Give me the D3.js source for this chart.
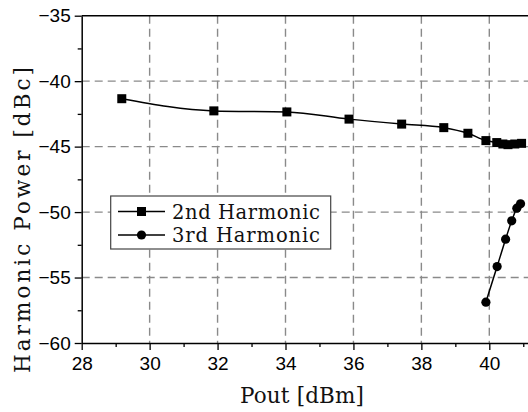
<!DOCTYPE html>
<html><head><meta charset="utf-8">
<script src="https://cdn.jsdelivr.net/npm/d3@7"></script>
<style>
html,body{margin:0;padding:0;background:#fff;}
svg{display:block;}
</style></head>
<body>
<svg id="chart" width="528" height="412"></svg>
<script>
const x2nd = [29.18, 31.89, 34.04, 35.87, 37.42, 38.66, 39.37, 39.9, 40.22, 40.4, 40.55, 40.75, 40.95];
const y2nd = [-41.34, -42.27, -42.35, -42.9, -43.28, -43.55, -43.98, -44.54, -44.69, -44.8, -44.85, -44.8, -44.75];
const x3rd = [39.9, 40.23, 40.48, 40.66, 40.81, 40.92];
const y3rd = [-56.88, -54.16, -52.07, -50.67, -49.70, -49.37];
const xTicks = [28, 30, 32, 34, 36, 38, 40];
const yTicks = [-60, -55, -50, -45, -40, -35];
const seriesNames = ["2nd Harmonic", "3rd Harmonic"];
const xTitle = "Pout [dBm]";
const yTitle = "Harmonic Power [dBc]";

const svg = d3.select("#chart");
const L = 81.7, T = 15.7, B = 343;
const x = d3.scaleLinear().domain([28, 40]).range([L, 489.3]);
const y = d3.scaleLinear().domain([-60, -35]).range([B, T]);
const xMax = x.invert(540);

// grid
const grid = svg.append("g").attr("stroke", "#8a8a8a").attr("stroke-width", 1.4).attr("stroke-dasharray", "8,5");
xTicks.filter(d => d > 28).forEach(d => grid.append("line").attr("x1", x(d)).attr("x2", x(d)).attr("y1", y(-35)).attr("y2", y(-60)));
yTicks.filter(d => d > -60 && d < -35).forEach(d => grid.append("line").attr("x1", x(28)).attr("x2", x(xMax)).attr("y1", y(d)).attr("y2", y(d)));

// axes
const xMinor = d3.range(28, 42, 1);
const yMinor = d3.range(-60, -34, 2.5);
const xAxis = svg.append("g").attr("transform", `translate(0,${B})`)
  .call(d3.axisBottom(x.copy().domain([28, xMax]).range([L, 540])).tickValues(xTicks).tickSize(7).tickSizeOuter(0).tickFormat(d3.format("d")));
svg.append("g").attr("transform", `translate(0,${B})`)
  .call(d3.axisBottom(x).tickValues(xMinor.filter(d => d % 2 !== 0)).tickSize(4).tickFormat(""))
  .select(".domain").remove();
const yAxis = svg.append("g").attr("transform", `translate(${L},0)`)
  .call(d3.axisLeft(y).tickValues(yTicks).tickSize(7).tickSizeOuter(0).tickFormat(d3.format("d")));
svg.append("g").attr("transform", `translate(${L},0)`)
  .call(d3.axisLeft(y).tickValues(yMinor.filter(d => d % 5 !== 0)).tickSize(4).tickFormat(""))
  .select(".domain").remove();
svg.selectAll(".tick line").attr("stroke", "#000").attr("stroke-width", 1.3);
svg.selectAll(".domain").attr("stroke", "#000").attr("stroke-width", 1.5);
svg.selectAll(".tick text").attr("font-family", "Liberation Sans, Arial, sans-serif").attr("font-size", 19).attr("fill", "#000");
xAxis.selectAll(".tick text").attr("dy", "0.9em");
yAxis.selectAll(".tick text").attr("dx", "-0.05em");
// top frame
svg.append("line").attr("x1", L).attr("x2", 540).attr("y1", T).attr("y2", T).attr("stroke", "#000").attr("stroke-width", 1.5);

// series
const line = d3.line().x(d => x(d[0])).y(d => y(d[1])).curve(d3.curveMonotoneX);
const d2 = x2nd.map((v, i) => [v, y2nd[i]]);
const d3s = x3rd.map((v, i) => [v, y3rd[i]]);
svg.append("path").attr("d", line(d2)).attr("fill", "none").attr("stroke", "#000").attr("stroke-width", 1.5);
svg.append("path").attr("d", line(d3s)).attr("fill", "none").attr("stroke", "#000").attr("stroke-width", 1.5);
svg.append("g").selectAll("rect").data(d2).join("rect")
  .attr("x", d => x(d[0]) - 4.5).attr("y", d => y(d[1]) - 4.5).attr("width", 9).attr("height", 9).attr("fill", "#000");
svg.append("g").selectAll("circle").data(d3s).join("circle")
  .attr("cx", d => x(d[0])).attr("cy", d => y(d[1])).attr("r", 4.6).attr("fill", "#000");

// legend
const lg = svg.append("g");
lg.append("rect").attr("x", 110.7).attr("y", 196).attr("width", 220).attr("height", 53)
  .attr("fill", "#fff").attr("stroke", "#444").attr("stroke-width", 1.2);
[211.5, 235].forEach((cy, i) => {
  lg.append("line").attr("x1", 118).attr("x2", 165).attr("y1", cy).attr("y2", cy).attr("stroke", "#000").attr("stroke-width", 1.5);
  if (i === 0) lg.append("rect").attr("x", 141.5 - 4.5).attr("y", cy - 4.5).attr("width", 9).attr("height", 9).attr("fill", "#000");
  else lg.append("circle").attr("cx", 141.5).attr("cy", cy).attr("r", 4.6).attr("fill", "#000");
  lg.append("text").attr("x", 172).attr("y", cy + 7).text(seriesNames[i])
    .attr("font-family", "DejaVu Serif, serif").attr("font-size", 19.5).attr("textLength", 148).attr("lengthAdjust", "spacing").attr("fill", "#111");
});

// titles
svg.append("text").attr("x", 240).attr("y", 403).text(xTitle)
  .attr("font-family", "DejaVu Serif, serif").attr("font-size", 21.5).attr("textLength", 124).attr("lengthAdjust", "spacing").attr("fill", "#111");
svg.append("text").attr("transform", "translate(30,373) rotate(-90)").text(yTitle)
  .attr("font-family", "DejaVu Serif, serif").attr("font-size", 21.5).attr("textLength", 306).attr("lengthAdjust", "spacing").attr("fill", "#111");
</script>
</body></html>
